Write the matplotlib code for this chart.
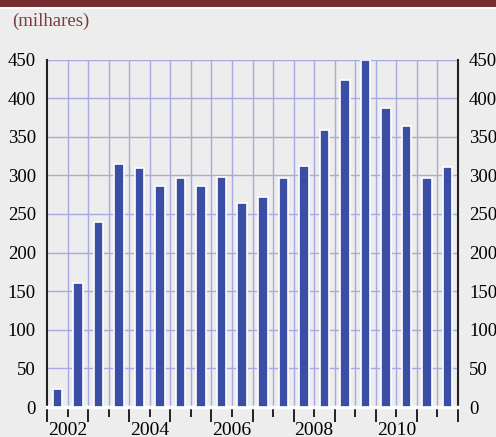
import numpy as np
import matplotlib
matplotlib.use("Agg")
import matplotlib.pyplot as plt
from matplotlib.patches import Rectangle
from matplotlib.ticker import FixedLocator, NullFormatter

# half-year values, 2002-2011 (thousands)
years = list(range(2002, 2012))
values = [23, 160, 240, 315, 309, 286, 296, 286, 298, 264,
          272, 296, 312, 359, 424, 449, 387, 364, 297, 311]
year_labels = ["2002", "2004", "2006", "2008", "2010"]
y_ticks = [0, 50, 100, 150, 200, 250, 300, 350, 400, 450]

plt.rcParams["font.family"] = ["Liberation Serif", "DejaVu Serif"]

bg = "#ededed"
bar_col = "#3a4ea5"
grid_col = "#a9a9e2"
red = "#772e31"

fig = plt.figure(figsize=(4.96, 4.37), dpi=100)
fig.patch.set_facecolor(bg)

# header band
fig.patches.append(Rectangle((0, 1 - 6.7 / 437), 1, 6.7 / 437, transform=fig.transFigure,
                             facecolor=red, edgecolor="none"))
fig.patches.append(Rectangle((0, 1 - 9.3 / 437), 1, 2.6 / 437, transform=fig.transFigure,
                             facecolor="white", edgecolor="none"))
fig.text(12 / 496, 1 - 21 / 437, "(milhares)", color="#7b3b3e", fontsize=13.5,
         ha="left", va="center")

ax = fig.add_axes([47 / 496, 30 / 437, 411 / 496, 347.5 / 437])
ax.set_facecolor(bg)

n = len(values)
x = np.arange(n) + 0.5
ax.bar(x, values, width=0.46, color=bar_col, edgecolor="white", linewidth=1.2, zorder=3)

ax.set_xlim(0, n)
ax.set_ylim(0, 450)

# grid: every half-year boundary, every 50
for xb in range(1, n):
    ax.axvline(xb, color=grid_col, linewidth=1.0, zorder=1)
for yv in y_ticks[1:]:
    ax.axhline(yv, color=grid_col, linewidth=1.0, zorder=1)

ax.xaxis.set_major_locator(FixedLocator(range(0, n + 1, 2)))
ax.xaxis.set_major_formatter(NullFormatter())
ax.xaxis.set_minor_locator(FixedLocator(range(1, n, 2)))
ax.tick_params(axis="x", which="major", length=11, width=1.2, color="black", direction="out")
ax.tick_params(axis="x", which="minor", length=7, width=1.2, color="black", direction="out")
for i, lab in enumerate(year_labels):
    ax.text(1 + 4 * i, -31, lab, ha="center", va="center", fontsize=14, clip_on=False)

ax.set_yticks(y_ticks)
ax.tick_params(axis="y", which="both", length=0, labelsize=13.5, pad=8,
               left=True, right=True, labelleft=True, labelright=True)

ax.spines["top"].set_visible(False)
ax.spines["bottom"].set_color("white")
ax.spines["bottom"].set_linewidth(2.5)
ax.spines["left"].set_color("#222222")
ax.spines["left"].set_linewidth(1.5)
ax.spines["right"].set_color("#222222")
ax.spines["right"].set_linewidth(1.5)

fig.savefig("out.png", dpi=100, facecolor=bg)
